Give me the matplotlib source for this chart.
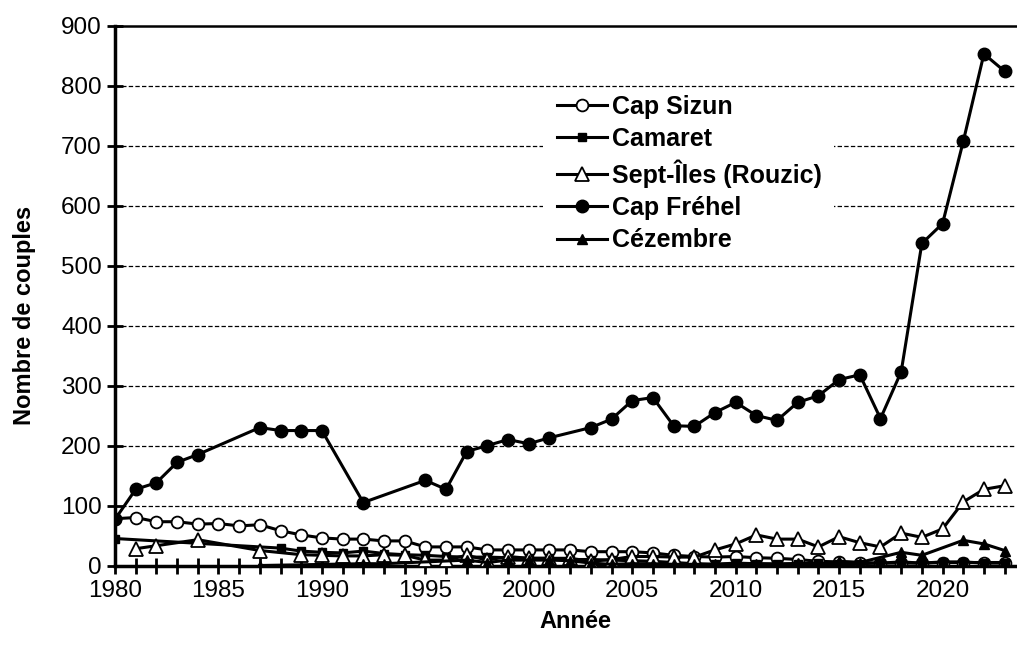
import matplotlib
matplotlib.use('Agg')
import matplotlib.pyplot as plt
from matplotlib.ticker import FixedLocator, FuncFormatter
from matplotlib.patches import Rectangle

plt.rcParams['font.family'] = ['Liberation Sans', 'DejaVu Sans']

# ---------------- data ----------------
years_sizun = list(range(1980, 2024))
cap_sizun = [78, 80, 73, 73, 69, 70, 66, 68, 58, 51,
             46, 44, 44, 41, 41, 31, 31, 31, 26, 26,
             26, 26, 26, 23, 23, 23, 21, 17, 15, 14,
             15, 13, 12, 10, 7, 6, 5, 4, 4, 4,
             5, 5, 5, 5]

years_camaret = [1980] + list(range(1988, 2024))
camaret = [45,
           29, 24,
           22, 21, 24, 20, 18, 17, 15, 14, 14, 13,
           12, 12, 10, 10, 9, 8, 7, 5, 3, 2,
           4, 3, 3, 3, 4, 3, 3, 4, 6, 4,
           6, 6, 4, 4]

years_sept = [1981, 1982, 1984, 1987] + list(range(1989, 2024))
sept_iles = [28, 33, 43, 25,
             18,
             17, 16, 16, 18, 17, 9, 9, 17, 9, 15,
             12, 12, 12, 7, 10, 15, 15, 14, 14, 26,
             36, 51, 44, 44, 31, 48, 38, 31, 54, 47,
             61, 106, 127, 133]

years_frehel = [1980, 1981, 1982, 1983, 1984, 1987, 1988, 1989, 1990, 1992,
                1995, 1996, 1997, 1998, 1999, 2000, 2001, 2003, 2004, 2005,
                2006, 2007, 2008, 2009, 2010, 2011, 2012, 2013, 2014, 2015,
                2016, 2017, 2018, 2019, 2020, 2021, 2022, 2023]
cap_frehel = [77, 127, 138, 172, 185, 230, 225, 225, 225, 105,
              142, 127, 190, 200, 210, 203, 213, 230, 244, 275,
              280, 233, 232, 255, 272, 250, 242, 272, 283, 310,
              318, 245, 323, 537, 570, 707, 853, 824]

years_cezembre = [1987, 1992, 1993, 1997, 1998, 1999, 2000, 2001, 2002, 2003,
                  2004, 2005, 2006, 2007, 2008, 2009, 2010, 2011, 2012, 2013,
                  2014, 2015, 2016, 2018, 2019, 2021, 2022, 2023]
cezembre = [0, 3, 3, 9, 5, 9, 9, 9, 8, 4,
            2, 3, 3, 2, 2, 2, 3, 3, 1, 4,
            0, 7, 5, 22, 17, 42, 36, 25]

labels = ['Cap Sizun', 'Camaret', 'Sept-Îles (Rouzic)', 'Cap Fréhel', 'Cézembre']

# ---------------- figure ----------------
W, H = 1017, 646
fig = plt.figure(figsize=(W / 100, H / 100), dpi=100)
ax = fig.add_axes([115 / W, 1 - 565.5 / H, (1016 - 115) / W, (565.5 - 25.7) / H])

lw = 2.2
ax.plot(years_sizun, cap_sizun, color='black', lw=lw, marker='o', ms=8.5,
        mfc='white', mec='black', mew=1.3, label=labels[0], zorder=3)
ax.plot(years_camaret, camaret, color='black', lw=lw, marker='s', ms=6,
        mfc='black', mec='black', label=labels[1], zorder=4)
ax.plot(years_sept, sept_iles, color='black', lw=lw, marker='^', ms=10,
        mfc='white', mec='black', mew=1.3, label=labels[2], zorder=5)
ax.plot(years_frehel, cap_frehel, color='black', lw=lw, marker='o', ms=9,
        mfc='black', mec='black', label=labels[3], zorder=6)
ax.plot(years_cezembre, cezembre, color='black', lw=lw, marker='^', ms=7,
        mfc='black', mec='black', label=labels[4], zorder=7)

ax.set_xlim(1980, 2023.55)
ax.set_ylim(0, 900)

ax.xaxis.set_major_locator(FixedLocator(list(range(1980, 2024))))
ax.xaxis.set_major_formatter(FuncFormatter(lambda v, p: f"{int(round(v))}" if int(round(v)) % 5 == 0 else ""))
ax.set_yticks(range(0, 901, 100))

for y in range(100, 900, 100):
    ax.axhline(y, color='black', lw=0.9, ls=(0, (3.5, 1.8)), zorder=1)

for s in ['left', 'bottom']:
    ax.spines[s].set_linewidth(2.5)
ax.spines['top'].set_linewidth(1.8)
ax.spines['right'].set_visible(False)

ax.tick_params(axis='both', direction='inout', width=2, labelsize=17.5, colors='black')
ax.tick_params(axis='y', length=11, pad=4)
ax.tick_params(axis='x', length=11, pad=5)

ax.set_ylabel('Nombre de couples', fontsize=17, fontweight='bold', labelpad=18)
ax.yaxis.label.set_y((565.5 - 315) / (565.5 - 25.7))
ax.set_xlabel('Année', fontsize=17, fontweight='bold', labelpad=5.5)
ax.xaxis.label.set_x((575 - 115) / (1016 - 115))

# white legend background (hides the gridlines behind the legend)
bg = Rectangle((543 / W, 1 - 258 / H), (834 - 543) / W, (258 - 90) / H,
               transform=fig.transFigure, facecolor='white', edgecolor='none',
               zorder=1.5, clip_on=False)
ax.add_patch(bg)

leg = ax.legend(loc='center left', bbox_to_anchor=(557 / W, 1 - 173.5 / H),
                bbox_transform=fig.transFigure, frameon=False,
                prop={'weight': 'bold', 'size': 18}, handlelength=2.0,
                handletextpad=0.2, labelspacing=0.33, borderpad=0,
                borderaxespad=0)
leg.set_zorder(10)
for h in leg.legend_handles:
    h.set_linewidth(2.2)

fig.savefig('out.png', dpi=100)
